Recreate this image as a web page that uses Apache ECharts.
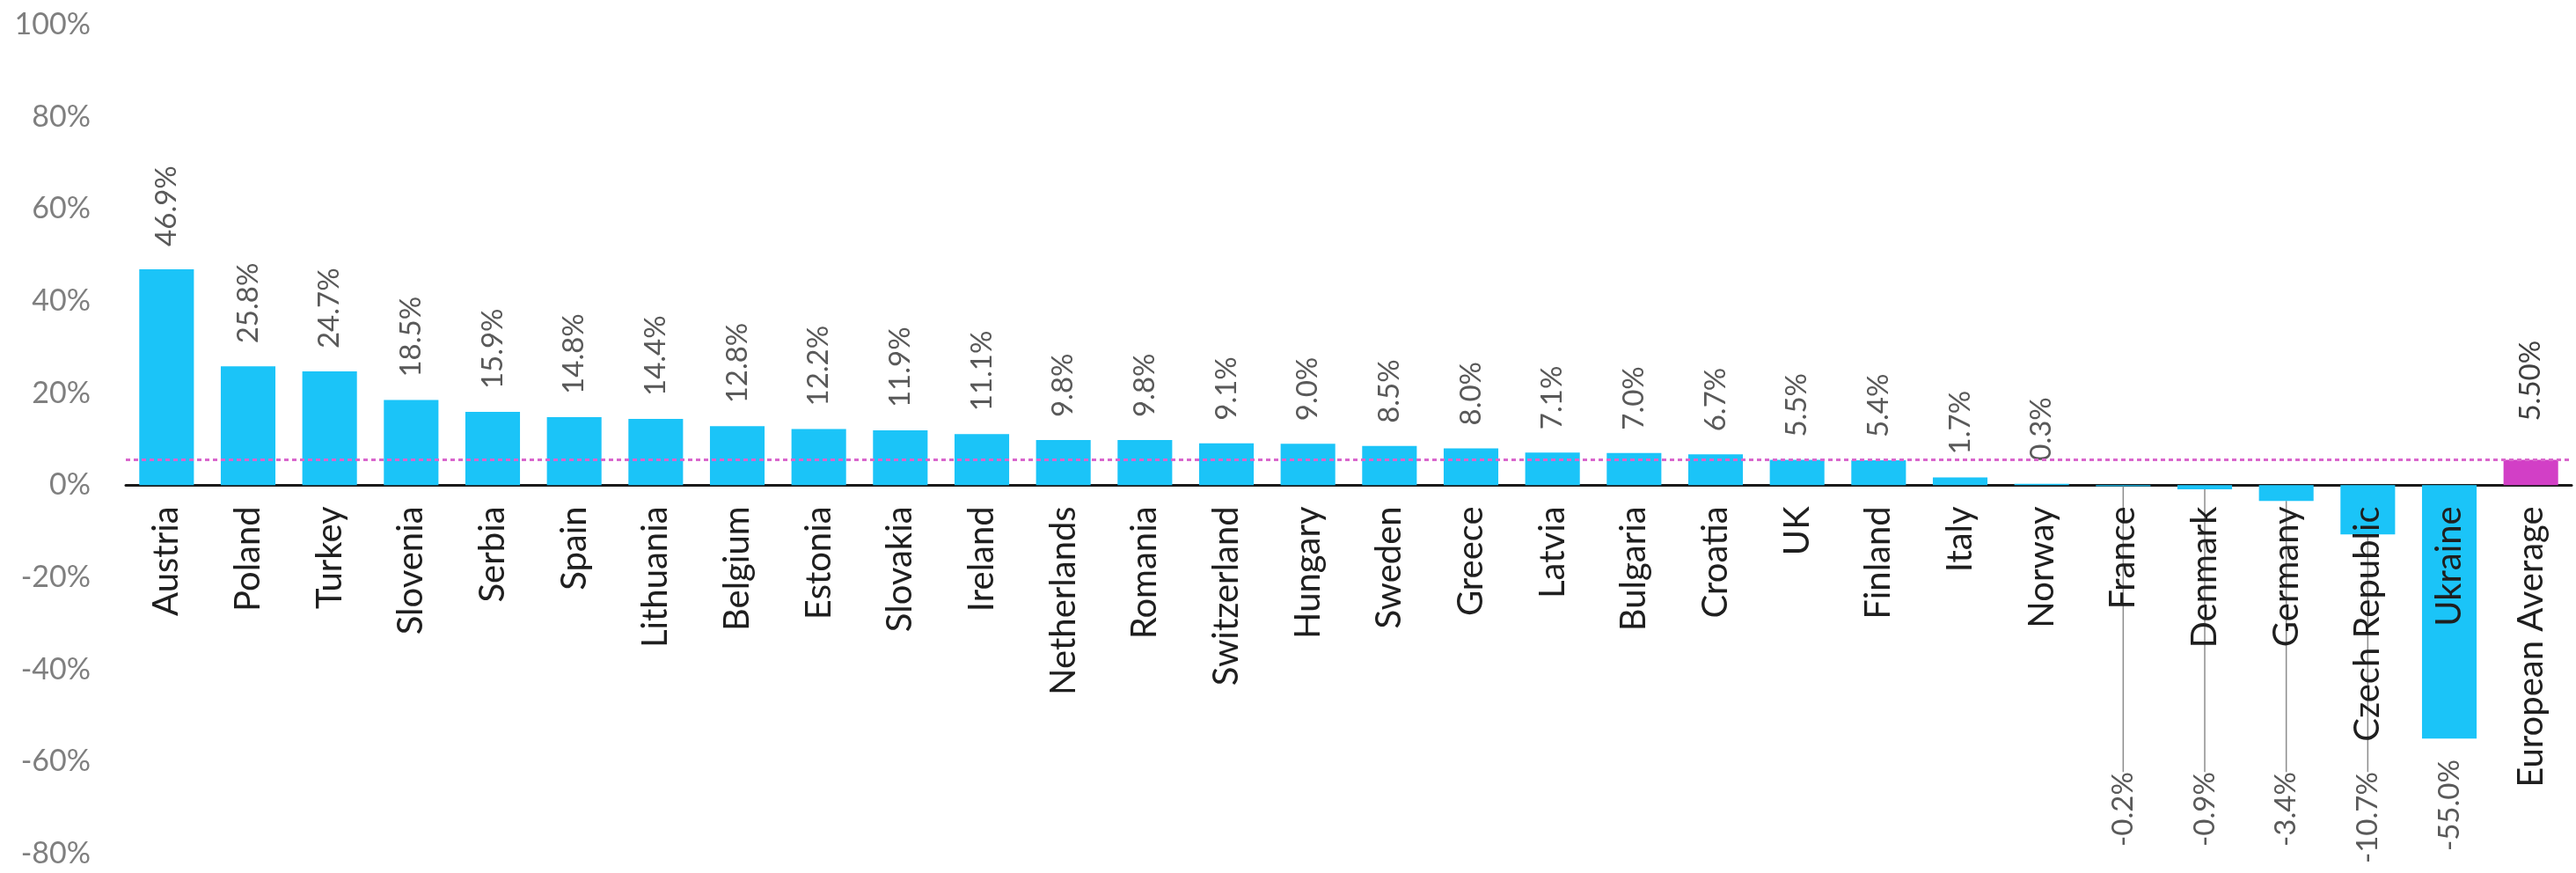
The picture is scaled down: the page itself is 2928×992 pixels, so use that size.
<!DOCTYPE html>
<html>
<head>
<meta charset="utf-8">
<script src="https://cdn.jsdelivr.net/npm/echarts@6/dist/echarts.min.js"></script>
<style>
  html, body { margin: 0; padding: 0; background: #ffffff; }
  #chart { width: 2928px; height: 992px; }
</style>
</head>
<body>
<div id="chart"></div>
<script>
// ---- data ----
const countries = ['Austria', 'Poland', 'Turkey', 'Slovenia', 'Serbia', 'Spain', 'Lithuania', 'Belgium',
  'Estonia', 'Slovakia', 'Ireland', 'Netherlands', 'Romania', 'Switzerland', 'Hungary', 'Sweden',
  'Greece', 'Latvia', 'Bulgaria', 'Croatia', 'UK', 'Finland', 'Italy', 'Norway', 'France', 'Denmark',
  'Germany', 'Czech Republic', 'Ukraine'];
const countryValues = [46.9, 25.8, 24.7, 18.5, 15.9, 14.8, 14.4, 12.8,
  12.2, 11.9, 11.1, 9.8, 9.8, 9.1, 9.0, 8.5,
  8.0, 7.1, 7.0, 6.7, 5.5, 5.4, 1.7, 0.3, -0.2, -0.9,
  -3.4, -10.7, -55.0];
const averageCategory = 'European Average';
const averageValue = 5.5;
const yMin = -80, yMax = 100, yStep = 20;

// ---- derived ----
const categories = countries.concat([averageCategory]);
const values = countryValues.concat([averageValue]);
const avgIndex = categories.length - 1;
const lowest = Math.min.apply(null, values);

const BLUE = '#1bc4f8';
const MAGENTA = '#d23fc6';
const LABEL_FONT = 'Lato, "Liberation Sans", sans-serif';

const H = 992, TOP = 28, BOTTOM = 22, LEFT = 143, RIGHT = 5;
// second (label-only) grid ends exactly at the zero line of the value axis
const zeroFromBottom = BOTTOM + (0 - yMin) / (yMax - yMin) * (H - TOP - BOTTOM);

const chart = echarts.init(document.getElementById('chart'), null, { renderer: 'canvas' });

const seriesData = values.map(function (v, i) {
  const isAvg = i === avgIndex;
  const item = {
    value: v,
    itemStyle: { color: isAvg ? MAGENTA : BLUE },
    label: v >= 0
      ? { position: 'top', align: 'left', verticalAlign: 'middle', distance: isAvg ? 44 : 26,
          color: isAvg ? '#404040' : '#595959' }
      : { position: 'bottom', align: 'right', verticalAlign: 'middle', distance: 24 }
  };
  if (v < 0 && v !== lowest) {
    item.labelLine = { show: true, lineStyle: { color: '#8c8c8c', width: 1.5 } };
  }
  return item;
});

const option = {
  animation: false,
  backgroundColor: '#ffffff',
  grid: [
    { left: LEFT, right: RIGHT, top: TOP, bottom: BOTTOM, containLabel: false, outerBoundsMode: 'none' },
    { left: LEFT, right: RIGHT, top: TOP, bottom: zeroFromBottom, containLabel: false, outerBoundsMode: 'none' }
  ],
  xAxis: [{
    type: 'category',
    gridIndex: 0,
    data: categories,
    axisLine: { show: true, onZero: true, lineStyle: { color: '#1a1a1a', width: 3 } },
    axisTick: { show: false },
    axisLabel: { show: false },
    splitLine: { show: false }
  }, {
    type: 'category',
    gridIndex: 1,
    z: 10,
    data: categories,
    axisLine: { show: false },
    axisTick: { show: false },
    axisLabel: {
      show: true, interval: 0, rotate: 90, margin: 24,
      color: '#1f1f1f', fontSize: 40, fontFamily: LABEL_FONT
    },
    splitLine: { show: false }
  }],
  yAxis: [{
    type: 'value',
    gridIndex: 0,
    min: yMin, max: yMax, interval: yStep,
    axisLine: { show: false },
    axisTick: { show: false },
    splitLine: { show: false },
    axisLabel: {
      formatter: '{value}%', margin: 40,
      color: '#7f7f7f', fontSize: 34, fontFamily: LABEL_FONT
    }
  }, {
    type: 'value',
    gridIndex: 1,
    show: false,
    min: 0, max: 1
  }],
  series: [{
    type: 'bar',
    xAxisIndex: 0,
    yAxisIndex: 0,
    data: seriesData,
    barCategoryGap: '33%',
    label: {
      show: true, rotate: 90,
      color: '#595959', fontSize: 33, fontFamily: LABEL_FONT,
      formatter: function (p) {
        return p.dataIndex === avgIndex ? p.value.toFixed(2) + '%' : p.value.toFixed(1) + '%';
      }
    },
    labelLayout: function (p) {
      const v = values[p.dataIndex];
      if (v < 0 && v !== lowest) {
        return { y: chart.convertToPixel({ yAxisIndex: 0 }, lowest) + 38 };
      }
      return {};
    },
    markLine: {
      silent: true,
      symbol: 'none',
      label: { show: false },
      lineStyle: { color: '#d966cc', width: 3, type: [5, 4] },
      data: [{ yAxis: averageValue }]
    }
  }]
};

chart.setOption(option);
</script>
</body>
</html>
